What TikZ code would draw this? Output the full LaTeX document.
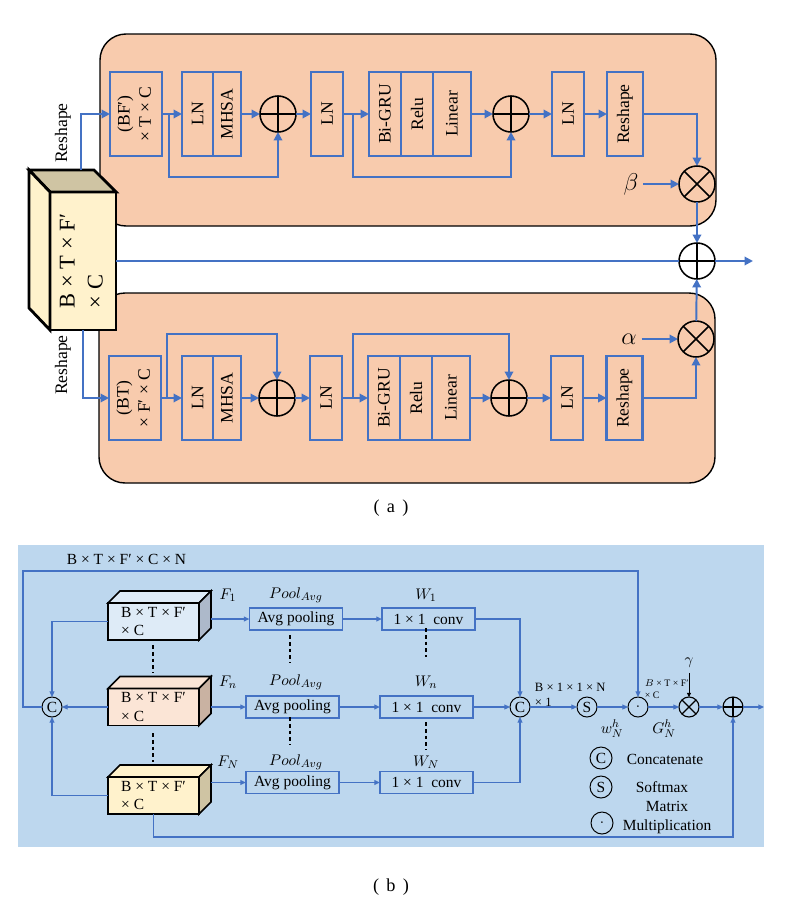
\documentclass[tikz,border=0pt]{standalone}
\usepackage{fontspec}
\setmainfont{Liberation Serif}
\usetikzlibrary{arrows.meta,calc}

\tikzset{
    fa/.style={font=\fontsize{12.5}{15}\selectfont},
    fb/.style={font=\fontsize{11}{13.5}\selectfont},
    blk/.style={draw=myblue, line width=2pt, minimum height=2.1cm, inner sep=0pt, outer sep=0pt, fa},
    arr/.style={myblue, line width=1.4pt, -{Triangle[length=6pt,width=6pt]}},
    arrb/.style={myblue, line width=0.8pt, -{Triangle[length=4pt,width=3.5pt]}},
    opl/.style={circle, draw, minimum size=#1, inner sep=0pt, outer sep=0pt,
        path picture={\draw (path picture bounding box.north) -- (path picture bounding box.south)
            (path picture bounding box.west) -- (path picture bounding box.east);}},
    opl/.default=0.9cm,
    otm/.style={circle, draw, minimum size=#1, inner sep=0pt, outer sep=0pt,
        path picture={\draw (path picture bounding box.north west) -- (path picture bounding box.south east)
            (path picture bounding box.south west) -- (path picture bounding box.north east);}},
    otm/.default=0.9cm,
    opc/.style={circle, draw, line width=0.7pt, minimum size=0.5cm, inner sep=0pt, outer sep=0pt, fb},
    cube/.style={draw, line width=2pt, fill=myyel, minimum width=1.65cm, minimum height=3.45cm,
        inner sep=0pt, outer sep=0pt, font=\fontsize{16}{20}\selectfont},
    fbox/.style={draw, line width=1.1pt, minimum width=2.275cm, minimum height=0.925cm,
        inner sep=0pt, outer sep=0pt, align=left, fb},
    pbox/.style={draw=myblue, line width=1pt, minimum width=2.33cm, minimum height=0.55cm,
        inner sep=0pt, outer sep=0pt, fb},
    vdash/.style={line width=1.8pt, dash pattern=on 2.8pt off 2pt},
}

\begin{document}
\begin{tikzpicture}[x=0.025cm, y=-0.025cm]
    \definecolor{myblue}{RGB}{68,114,196}
    \definecolor{mypeach}{RGB}{248,203,173}
    \definecolor{mybg}{RGB}{189,215,238}
    \definecolor{myyel}{RGB}{255,242,204}
    \definecolor{mytan}{RGB}{207,196,163}
    \definecolor{mylb}{RGB}{222,235,247}
    \definecolor{mygray}{RGB}{173,185,202}
    \definecolor{mypk}{RGB}{251,229,214}
    \definecolor{mybrn}{RGB}{201,178,162}

    \useasboundingbox (0,0) rectangle (788,922);

    % (a)
    \draw[fill=mypeach, line width=1pt, rounded corners=0.65cm] (100,34) rectangle (716,226);
    \draw[fill=mypeach, line width=1pt, rounded corners=0.65cm] (99,293) rectangle (715,483);

    \node[cube] (big) at (83,261) {\rotatebox{90}{\begin{tabular}{@{}l@{}}B × T × F′\\× C\end{tabular}}};
    \filldraw[fill=mytan, line width=2pt] (big.north west) -- ++(-21,-22) -- ++(65,0) -- (big.north east) -- cycle;
    \filldraw[fill=myyel, line width=2pt] (big.north west) -- ++(-21,-22) -- ++(0,138) -- (big.south west) -- cycle;

    \node[fa, rotate=90] (lr1) at (63,133) {Reshape};
    \node[fa, rotate=90] (lr2) at (63,365) {Reshape};

    \node[blk, minimum width=1.3cm] (bf) at (136,114) {\rotatebox{90}{\begin{tabular}{@{}c@{}}(BF′)\\× T × C\end{tabular}}};
    \node[blk, minimum width=0.775cm] (ln1) at (197.5,114) {\rotatebox{90}{LN}};
    \node[blk, minimum width=0.7cm] (mh1) at (227,114) {\rotatebox{90}{MHSA}};
    \node[opl, line width=1.1pt] (p1) at (278,114) {};
    \node[blk, minimum width=0.8cm] (ln2) at (327,114) {\rotatebox{90}{LN}};
    \node[blk, minimum width=0.8cm] (gru1) at (385,114) {\rotatebox{90}{Bi-GRU}};
    \node[blk, minimum width=0.8cm] (relu1) at (417,114) {\rotatebox{90}{Relu}};
    \node[blk, minimum width=0.95cm] (lin1) at (452,114) {\rotatebox{90}{Linear}};
    \node[opl, line width=1.1pt] (p2) at (511,114) {};
    \node[blk, minimum width=0.8cm] (ln3) at (568,114) {\rotatebox{90}{LN}};
    \node[blk, minimum width=0.9cm] (rs1) at (625,114) {\rotatebox{90}{Reshape}};
    \node[otm, line width=1.1pt] (m1) at (697,184) {};
    \node[font=\fontsize{17}{19}\selectfont] (beta) at (631,184) {$\beta$};

    \node[blk, minimum width=1.3cm] (bt) at (135,398) {\rotatebox{90}{\begin{tabular}{@{}c@{}}(BT)\\× F′ × C\end{tabular}}};
    \node[blk, minimum width=0.775cm] (ln4) at (197.5,398) {\rotatebox{90}{LN}};
    \node[blk, minimum width=0.7cm] (mh2) at (227,398) {\rotatebox{90}{MHSA}};
    \node[opl, line width=1.1pt] (p3) at (277,398) {};
    \node[blk, minimum width=0.8cm] (ln5) at (326,398) {\rotatebox{90}{LN}};
    \node[blk, minimum width=0.8cm] (gru2) at (384,398) {\rotatebox{90}{Bi-GRU}};
    \node[blk, minimum width=0.8cm] (relu2) at (416,398) {\rotatebox{90}{Relu}};
    \node[blk, minimum width=0.95cm] (lin2) at (451,398) {\rotatebox{90}{Linear}};
    \node[opl, line width=1.1pt] (p4) at (509,398) {};
    \node[blk, minimum width=0.8cm] (ln6) at (567,398) {\rotatebox{90}{LN}};
    \node[blk, minimum width=0.9cm] (rs2) at (624.5,398) {\rotatebox{90}{Reshape}};
    \node[otm, line width=1.1pt] (m2) at (696,339) {};
    \node[font=\fontsize{17}{19}\selectfont] (alpha) at (629,339) {$\alpha$};

    \node[opl, line width=1.1pt] (pout) at (697,261) {};

    \coordinate (r1) at (81,170);
    \coordinate (r2) at (83,330);
    \draw[arr] (r1) |- (bf.west);
    \draw[arr] (r2) |- (bt.west);

    \draw[arr] (bf) -- (ln1);
    \draw[arr] (mh1) -- (p1);
    \draw[arr] (p1) -- (ln2);
    \draw[arr] (ln2) -- (gru1);
    \draw[arr] (lin1) -- (p2);
    \draw[arr] (p2) -- (ln3);
    \draw[arr] (ln3) -- (rs1);
    \draw[arr] (rs1.east) -| (m1.north);
    \draw[arr] (beta) -- (m1);
    \draw[arr] (m1) -- (pout);
    \coordinate (k1) at (169,114);
    \coordinate (k2) at (353,114);
    \draw[arr] (k1) -- ++(0,63) -| (p1.south);
    \draw[arr] (k2) -- ++(0,63) -| (p2.south);

    \draw[arr] (bt) -- (ln4);
    \draw[arr] (mh2) -- (p3);
    \draw[arr] (p3) -- (ln5);
    \draw[arr] (ln5) -- (gru2);
    \draw[arr] (lin2) -- (p4);
    \draw[arr] (p4) -- (ln6);
    \draw[arr] (ln6) -- (rs2);
    \draw[arr] (rs2.east) -| (m2.south);
    \draw[arr] (alpha) -- (m2);
    \draw[arr] (m2) -- (pout);
    \coordinate (k3) at (167,398);
    \coordinate (k4) at (353,398);
    \draw[arr] (k3) -- ++(0,-64) -| (p3.north);
    \draw[arr] (k4) -- ++(0,-64) -| (p4.north);

    \draw[myblue, line width=1.4pt] (big.east) -- (pout.west);
    \coordinate (outa) at (753,261);
    \draw[arr] (pout.east) -- (outa);

    \node[font=\fontsize{13}{15}\selectfont] (capa) at (391,508) {(\hspace{0.4em}a\hspace{0.4em})};

    % (b)
    \fill[mybg] (18,545) rectangle (764,847);
    \node[fb, anchor=west] (dimtop) at (62,559) {B × T × F′ × C × N};

    \foreach \n/\y/\cf/\cs in {f1/621.5/mylb/mygray, fn/707/mypk/mybrn, fN/795.5/myyel/mytan} {
        \node[fbox, fill=\cf] (\n) at (153.5,\y) {B × T × F′\\× C};
        \filldraw[fill=\cf, line width=1.1pt] (\n.north west) -- ++(12,-12) -- ++(91,0) -- (\n.north east) -- cycle;
        \filldraw[fill=\cs, line width=1.1pt] (\n.north east) -- ++(12,-12) -- ++(0,37) -- (\n.south east) -- cycle;
    }

    \node[pbox] (pool1) at (296,619) {Avg pooling};
    \node[pbox] (pool2) at (292.5,707) {Avg pooling};
    \node[pbox] (pool3) at (292.5,782.5) {Avg pooling};
    \node[pbox] (conv1) at (428.5,619) {1 × 1\ \ conv};
    \node[pbox] (conv2) at (426.5,707) {1 × 1\ \ conv};
    \node[pbox] (conv3) at (426.5,782.5) {1 × 1\ \ conv};

    \foreach \s/\y in {1/595, n/682, N/762} {
        \node[fb] (lf\s) at (228,\y) {$F_\s$};
        \node[fb] (lp\s) at (296,\y) {$Pool_{Avg}$};
        \node[fb] (lw\s) at (426,\y) {$W_\s$};
    }

    \draw[vdash] (153,645) -- (153,673);
    \draw[vdash] (153,733) -- (153,762);
    \draw[vdash] (290,635) -- (290,663);
    \draw[vdash] (290,717) -- (290,745);
    \draw[vdash] (426,628) -- (426,657);
    \draw[vdash] (426,722) -- (426,750);

    \node[opc] (cat1) at (52,707) {C};
    \node[opc] (cat2) at (520,707) {C};
    \node[opc] (sm) at (587,707) {S};
    \node[opc] (dot) at (638,707) {$\cdot$};
    \node[otm=0.5cm, line width=0.8pt] (mul) at (689,707) {};
    \node[opl=0.5cm, line width=0.8pt] (add) at (733,707) {};

    \node[fb] (gam) at (689,663) {$\gamma$};
    \node[font=\fontsize{9}{11}\selectfont, anchor=west, align=left] (dcat) at (530,695) {B × 1 × 1 × N\\× 1};
    \node[font=\fontsize{7}{8.5}\selectfont, anchor=west, align=left] (ddot) at (640,689) {$B$ × T × F′\\× C};
    \node[fb, inner sep=0pt] (lwh) at (612,729) {$w_N^h$};
    \node[fb, inner sep=0pt] (lgh) at (664,729) {$G_N^h$};

    \draw[arrb] ($(pool1.west -| f1.east)+(12,0)$) -- (pool1.west);
    \draw[arrb] ($(pool2.west -| fn.east)+(12,0)$) -- (pool2.west);
    \draw[arrb] ($(pool3.west -| fN.east)+(12,0)$) -- (pool3.west);
    \draw[arrb] (pool1) -- (conv1);
    \draw[arrb] (pool2) -- (conv2);
    \draw[arrb] (pool3) -- (conv3);
    \draw[arrb] (conv1.east) -| (cat2.north);
    \draw[arrb] (conv2) -- (cat2);
    \draw[arrb] (conv3.east) -| (cat2.south);
    \draw[arrb] (cat2) -- (sm);
    \draw[arrb] (sm) -- (dot);
    \draw[arrb] (dot) -- (mul);
    \draw[arrb] (mul) -- (add);
    \coordinate (outb) at (764,707);
    \draw[arrb] (add) -- (outb);
    \draw[-{Triangle[length=3pt,width=3pt]}, line width=0.6pt] (gam) -- (mul);

    \coordinate (tl) at (23,571);
    \draw[arrb] (cat1.west) -| (tl) -| (dot.north);
    \draw[arrb] (f1.west) -| (cat1.north);
    \draw[arrb] (fn) -- (cat1);
    \draw[arrb] (fN.west) -| (cat1.south);
    \draw[arrb] (fN.south) -- ++(0,23) -| (add.south);

    \node[opc, minimum size=0.55cm] (lgc) at (601,758) {C};
    \node[fb] (lgct) at (665,759) {Concatenate};
    \node[opc, minimum size=0.55cm] (lgs) at (601,787) {S};
    \node[fb] (lgst) at (662,787) {Softmax};
    \node[opc, minimum size=0.55cm] (lgd) at (602,823) {$\cdot$};
    \node[fb, align=center] (lgdt) at (667,818) {Matrix\\Multiplication};

    \node[font=\fontsize{13}{15}\selectfont] (capb) at (391,887) {(\hspace{0.4em}b\hspace{0.4em})};
\end{tikzpicture}
\end{document}
